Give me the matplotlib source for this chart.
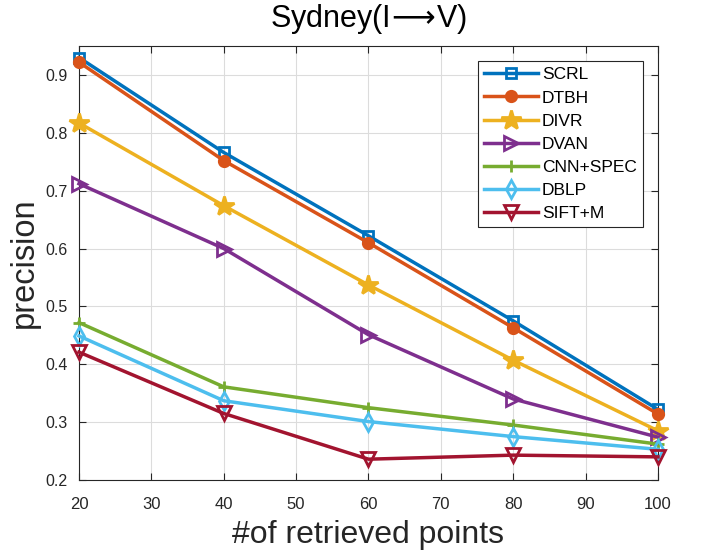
import matplotlib
matplotlib.use("Agg")
import matplotlib.pyplot as plt

plt.rcParams['font.family'] = ['Liberation Sans', 'DejaVu Sans']
plt.rcParams['mathtext.fontset'] = 'dejavusans'

x = [20, 40, 60, 80, 100]
labels = ["SCRL", "DTBH", "DIVR", "DVAN", "CNN+SPEC", "DBLP", "SIFT+M"]
scrl = [0.930, 0.766, 0.622, 0.475, 0.322]
dtbh = [0.922, 0.752, 0.610, 0.463, 0.314]
divr = [0.817, 0.674, 0.537, 0.407, 0.285]
dvan = [0.712, 0.600, 0.451, 0.340, 0.274]
cnn_spec = [0.472, 0.361, 0.325, 0.295, 0.262]
dblp = [0.449, 0.337, 0.301, 0.275, 0.253]
sift_m = [0.421, 0.315, 0.236, 0.243, 0.240]
xticks = [20, 30, 40, 50, 60, 70, 80, 90, 100]
yticks = [0.2, 0.3, 0.4, 0.5, 0.6, 0.7, 0.8, 0.9]

series = [scrl, dtbh, divr, dvan, cnn_spec, dblp, sift_m]
colors = ["#0072BD", "#D95319", "#EDB120", "#7E2F8E", "#77AC30", "#4DBEEE", "#A2142F"]
markers = ["s", "o", "*", ">", "+", "d", "v"]
filled = [False, True, True, False, True, False, False]
msizes = [7.5, 7.5, 15, 10, 9, 9, 10]

fig = plt.figure(figsize=(7.02, 5.52), dpi=100)
ax = fig.add_axes([0.1125, 0.1304, 0.8248, 0.7863])

for ys, lab, c, m, f, ms in zip(series, labels, colors, markers, filled, msizes):
    ax.plot(x, ys, color=c, lw=2.5, marker=m, ms=ms, mew=2,
            mfc=c if f else 'none', mec=c, label=lab, clip_on=False, zorder=3)

ax.set_xlim(20, 100)
ax.set_ylim(0.2, 0.95)
ax.set_xticks(xticks)
ax.set_yticks(yticks)
ax.set_xticklabels([str(v) for v in xticks])
ax.set_yticklabels([f"{v:.1f}" for v in yticks])
ax.grid(True, color='#dcdcdc', lw=0.8)
ax.set_axisbelow(True)
ax.tick_params(direction='in', top=True, right=True, length=5, width=0.8,
               colors='#262626', labelcolor='#262626')
ax.tick_params(axis='x', labelsize=12, pad=12)
ax.tick_params(axis='y', labelsize=11.5, pad=8)
for s in ax.spines.values():
    s.set_color('#262626')
    s.set_linewidth(0.8)

ax.set_title("Sydney(I$\\!\\longrightarrow\\!$V)", fontsize=22, color='black', pad=14)
ax.set_xlabel("#of retrieved points", fontsize=23, color='#262626', labelpad=6)
ax.set_ylabel("precision", fontsize=23.5, color='#262626', labelpad=4)

leg = ax.legend(loc='upper right', bbox_to_anchor=(0.974, 0.965), borderaxespad=0,
                fontsize=12.5, frameon=True, fancybox=False, edgecolor='#262626',
                framealpha=1, handlelength=3.1, handletextpad=0.25, labelspacing=0.46,
                borderpad=0.35)
leg.get_frame().set_linewidth(0.8)

fig.savefig("out.png", dpi=100)
